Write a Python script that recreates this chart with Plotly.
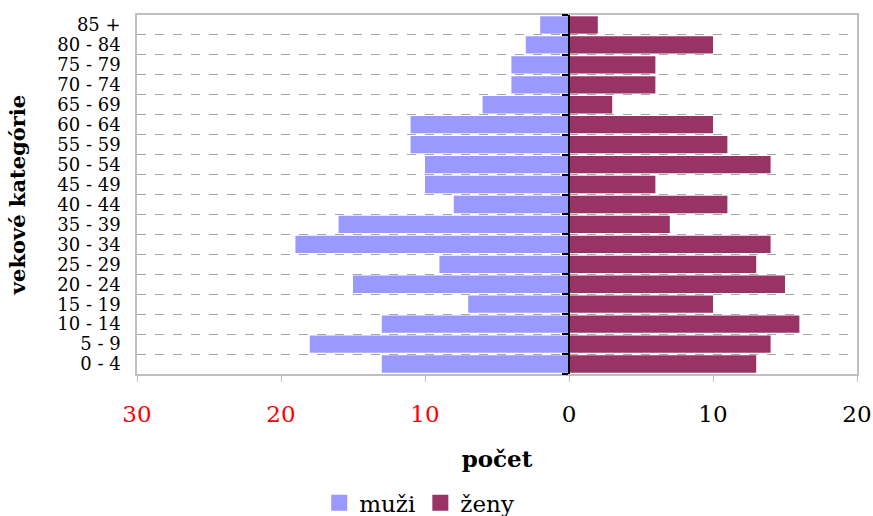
import plotly.graph_objects as go

categories = ["0 - 4", "5 - 9", "10 - 14", "15 - 19", "20 - 24", "25 - 29", "30 - 34",
              "35 - 39", "40 - 44", "45 - 49", "50 - 54", "55 - 59", "60 - 64",
              "65 - 69", "70 - 74", "75 - 79", "80 - 84", "85 +"]
muzi = [13, 18, 13, 7, 15, 9, 19, 16, 8, 10, 10, 11, 11, 6, 4, 4, 3, 2]
zeny = [13, 14, 16, 10, 15, 13, 14, 7, 11, 6, 14, 11, 10, 3, 6, 6, 10, 2]

tick_vals = [-30, -20, -10, 0, 10, 20]
tick_text = ["<span style='color:#ff0000'>30</span>",
             "<span style='color:#ff0000'>20</span>",
             "<span style='color:#ff0000'>10</span>",
             "0", "10", "20"]

col_m = "#9999FF"
col_z = "#993366"

fig = go.Figure()
fig.add_trace(go.Bar(y=categories, x=[-v for v in muzi], orientation="h", name="muži",
                     marker=dict(color=col_m, line=dict(width=0)), showlegend=False,
                     customdata=muzi, hovertemplate="%{y}: %{customdata}<extra>muži</extra>"))
fig.add_trace(go.Bar(y=categories, x=zeny, orientation="h", name="ženy", yaxis="y2",
                     marker=dict(color=col_z, line=dict(width=0)), showlegend=False))
# legend entries with larger square symbols
fig.add_trace(go.Scatter(x=[None], y=[None], mode="markers", name="muži",
                         marker=dict(symbol="square", size=16, color=col_m)))
fig.add_trace(go.Scatter(x=[None], y=[None], mode="markers", name="ženy",
                         marker=dict(symbol="square", size=16, color=col_z)))

serif = "DejaVu Serif"
fig.update_layout(
    width=873, height=516,
    margin=dict(l=137, r=16, t=15, b=142, autoexpand=False),
    paper_bgcolor="white", plot_bgcolor="white",
    bargap=0.13,
    showlegend=True,
    legend=dict(orientation="h", x=0.392, xanchor="center", y=-0.359, yanchor="middle",
                font=dict(family=serif, size=23, color="black"),
                itemwidth=30, tracegroupgap=0),
    xaxis=dict(range=[-30, 20], tickvals=tick_vals, ticktext=tick_text,
               tickfont=dict(family=serif, size=23, color="black"),
               ticks="outside", ticklen=6, tickcolor="#c0c0c0",
               ticklabelstandoff=13, automargin=False,
               showline=True, linecolor="#c0c0c0", linewidth=1.5, mirror=True,
               showgrid=False, zeroline=False,
               title=dict(text="<b>počet</b>", font=dict(family=serif, size=23, color="black"),
                          standoff=25)),
    yaxis=dict(type="category", categoryorder="array", categoryarray=categories,
               tickmode="array", tickvals=categories, ticktext=categories,
               tickson="boundaries", ticks="", showgrid=True, griddash="dash",
               gridcolor="#a6a6a6", gridwidth=1, automargin=False,
               showline=True, linecolor="#c0c0c0", linewidth=1.5, mirror=True,
               tickfont=dict(family=serif, size=18, color="black"),
               ticklabelstandoff=11,
               title=dict(text="<b>vekové kategórie</b>",
                          font=dict(family=serif, size=21, color="black"), standoff=26)),
    yaxis2=dict(type="category", categoryorder="array", categoryarray=categories,
                overlaying="y", anchor="free", position=0.6, side="left",
                tickson="boundaries", ticks="outside", ticklen=6, tickcolor="black",
                tickwidth=1.5, automargin=False,
                showticklabels=False, showgrid=False,
                showline=True, linecolor="black", linewidth=1.5),
)

fig.write_html("out.html", config={"displayModeBar": False},
               post_script="document.body.style.margin='0';")
